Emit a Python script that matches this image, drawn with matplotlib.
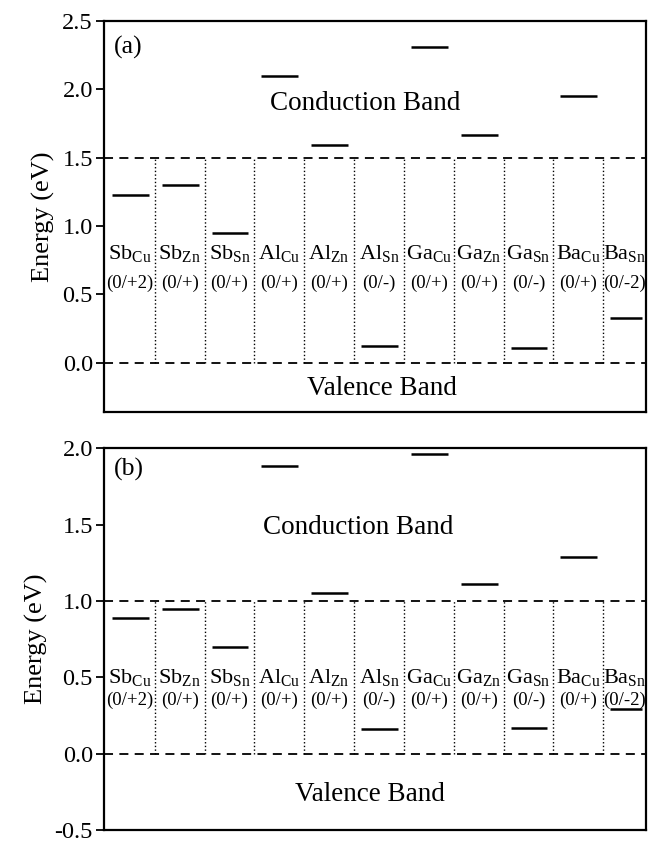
import matplotlib
matplotlib.use("Agg")
import matplotlib.pyplot as plt

plt.rcParams["font.family"] = ["Liberation Serif", "DejaVu Serif"]
plt.rcParams["mathtext.fontset"] = "custom"
plt.rcParams["mathtext.rm"] = "Liberation Serif"
plt.rcParams["mathtext.it"] = "Liberation Serif:italic"
plt.rcParams["axes.unicode_minus"] = False

# defects (element, site) and charge transition labels
elements = ["Sb", "Sb", "Sb", "Al", "Al", "Al", "Ga", "Ga", "Ga", "Ba", "Ba"]
sites = ["Cu", "Zn", "Sn", "Cu", "Zn", "Sn", "Cu", "Zn", "Sn", "Cu", "Sn"]
charges = ["(0/+2)", "(0/+)", "(0/+)", "(0/+)", "(0/+)", "(0/-)",
           "(0/+)", "(0/+)", "(0/-)", "(0/+)", "(0/-2)"]

# transition levels (eV)
levels_a = [1.23, 1.30, 0.95, 2.10, 1.59, 0.12, 2.31, 1.67, 0.11, 1.95, 0.33]
levels_b = [0.89, 0.95, 0.70, 1.88, 1.05, 0.16, 1.96, 1.11, 0.17, 1.29, 0.29]

gap_a = 1.5
gap_b = 1.0

XMAX = 10.86

fig = plt.figure(figsize=(6.48, 8.44), dpi=100)
ax_a = fig.add_axes([0.1605, 0.512, 0.8365, 0.463])
ax_b = fig.add_axes([0.1605, 0.0165, 0.8365, 0.4525])


def draw_panel(ax, levels, gap, ylim, tag, tag_y, lab_y, chg_y,
               cb_xy, vb_xy):
    n = len(levels)
    ax.axhline(0.0, color="black", ls=(0, (5, 3.5)), lw=1.3)
    ax.axhline(gap, color="black", ls=(0, (5, 3.5)), lw=1.3)
    for i in range(1, n):
        ax.plot([i, i], [0, gap], color="black", ls=":", lw=1.0)
    for i, e in enumerate(levels):
        right = i + 0.88 if i < n - 1 else XMAX - 0.08
        ax.plot([i + 0.14, right], [e, e], color="black", lw=1.8,
                solid_capstyle="butt")
        cx = i + 0.5 if i < n - 1 else (i + XMAX) / 2
        ax.text(cx, lab_y, elements[i] + r"$_{\rm " + sites[i] + "}$",
                ha="center", va="center", fontsize=16)
        ax.text(cx, chg_y, charges[i], ha="center", va="center",
                fontsize=13.5)
    ax.text(cb_xy[0], cb_xy[1], "Conduction Band", ha="center",
            va="center", fontsize=19.5)
    ax.text(vb_xy[0], vb_xy[1], "Valence Band", ha="center",
            va="center", fontsize=19.5)
    ax.text(0.18, tag_y, tag, ha="left", va="center", fontsize=18.5)
    ax.set_xlim(-0.02, XMAX)
    ax.set_ylim(*ylim)
    ax.set_xticks([])
    ax.set_ylabel("Energy (eV)", fontsize=19, labelpad=5)
    ax.tick_params(axis="y", direction="out", length=6, width=1.3,
                   labelsize=17.5, pad=2)
    for s in ax.spines.values():
        s.set_linewidth(1.6)


draw_panel(ax_a, levels_a, gap_a, (-0.36, 2.5), "(a)", 2.31, 0.80, 0.58,
           (5.22, 1.90), (5.55, -0.19))
ax_a.set_yticks([0.0, 0.5, 1.0, 1.5, 2.0, 2.5])
ax_a.set_yticklabels(["0.0", "0.5", "1.0", "1.5", "2.0", "2.5"])

draw_panel(ax_b, levels_b, gap_b, (-0.5, 2.0), "(b)", 1.86, 0.50, 0.35,
           (5.08, 1.48), (5.32, -0.27))
ax_b.set_yticks([-0.5, 0.0, 0.5, 1.0, 1.5, 2.0])
ax_b.set_yticklabels(["-0.5", "0.0", "0.5", "1.0", "1.5", "2.0"])

fig.savefig("out.png", dpi=100)
